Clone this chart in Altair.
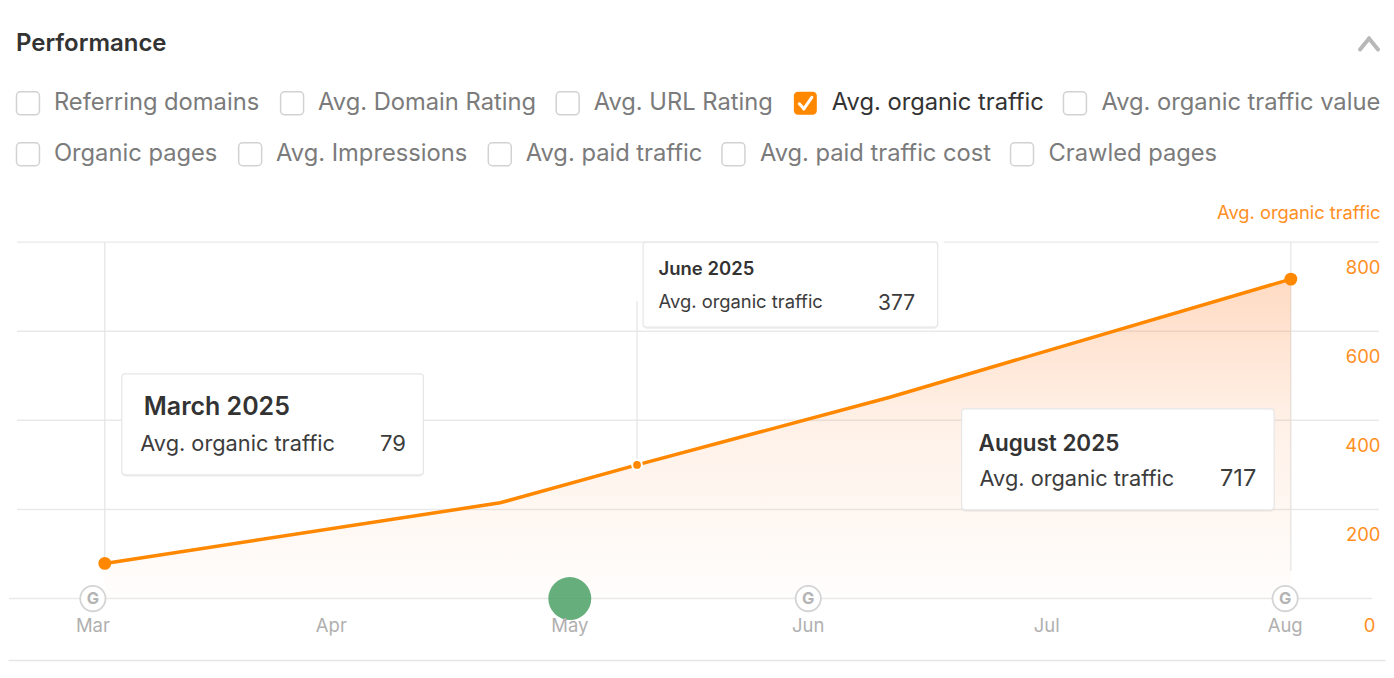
import altair as alt
import pandas as pd

# ---- values ----
series_month = [0.050, 1.708, 2.282, 3.342, 5.024]   # position on the month axis
series_value = [79, 215, 300, 452, 717]
month_labels = ["Mar", "Apr", "May", "Jun", "Jul", "Aug"]
y_ticks = [0, 200, 400, 600, 800]
google_months = [0, 3, 5]
green_month = [2]
end_points = [0.050, 5.024]
end_values = [79, 717]
mid_point = [2.282]
mid_value = [300]
row1 = ["Referring domains", "Avg. Domain Rating", "Avg. URL Rating", "Avg. organic traffic", "Avg. organic traffic value"]
row2 = ["Organic pages", "Avg. Impressions", "Avg. paid traffic", "Avg. paid traffic cost", "Crawled pages"]
series_name = "Avg. organic traffic"

ORANGE = "#ff8800"
LABEL_ORANGE = "#ff8f1f"
GRID = "#e9e9e9"
FONT = "Inter"
W, H = 1378, 660
OX, OY = 8, 7

X = alt.X("m:Q", axis=None, scale=alt.Scale(domain=[-0.3518, 5.4188], nice=False, zero=False))
Y = alt.Y("v:Q", axis=None, scale=alt.Scale(domain=[-154.66, 1324.34], nice=False, zero=False))
Y2 = alt.Y2("v0:Q")
one = alt.Data(values=[{"a": 1}])
layers = []


def px(v):
    return alt.value(v - OX)


def py(v):
    return alt.value(v - OY)


def text(x, y, s, size=23.75, color="#7b7b7b", weight=400, align="left"):
    layers.append(alt.Chart(one).mark_text(text=s, font=FONT, fontSize=size, color=color, fontWeight=weight,
                                           align=align, baseline="middle").encode(x=px(x), y=py(y)))


def box(x0, y0, x1, y1, fill="white", stroke=None, sw=1.0, r=3, opacity=1.0):
    kw = {"stroke": stroke, "strokeWidth": sw} if stroke else {}
    layers.append(alt.Chart(one).mark_rect(fill=fill, cornerRadius=r, opacity=opacity, **kw).encode(
        x=px(x0), x2=px(x1), y=py(y0), y2=py(y1)))


def seg(x0, y0, x1, y1, color, sw):
    layers.append(alt.Chart(one).mark_rule(color=color, strokeWidth=sw, strokeCap="round").encode(
        x=px(x0), x2=px(x1), y=py(y0), y2=py(y1)))


# ---- header ----
text(15, 43, "Performance", size=24, color="#333333", weight=600)
seg(1361, 48, 1370, 37, "#b8b8b8", 4)
seg(1370, 37, 1379, 48, "#b8b8b8", 4)

# ---- checkboxes ----
row1_box = [15.5, 280, 556, 794, 1064]
row1_txt = [53, 317.5, 593.5, 832, 1102]
row2_box = [15.5, 238, 488, 722, 1011]
row2_txt = [53, 275.5, 525.5, 760, 1049]
for i, s in enumerate(row1):
    active = s == series_name
    if active:
        box(row1_box[i], 90.5, row1_box[i] + 23, 113.5, fill=ORANGE, r=4)
        seg(row1_box[i] + 5.5, 102.5, row1_box[i] + 10, 107.5, "white", 3)
        seg(row1_box[i] + 10, 107.5, row1_box[i] + 18, 96, "white", 3)
    else:
        box(row1_box[i], 90.5, row1_box[i] + 23, 113.5, stroke="#d2d2d2", sw=1.5, r=4)
    text(row1_txt[i], 102, s, color="#333333" if active else "#7b7b7b")
for i, s in enumerate(row2):
    box(row2_box[i], 141.5, row2_box[i] + 23, 164.5, stroke="#d2d2d2", sw=1.5, r=4)
    text(row2_txt[i], 153, s)

text(1381.5, 213, series_name, size=18.3, color=LABEL_ORANGE, align="right")

# ---- grid and axis ----
grid_df = pd.DataFrame({"v": y_ticks, "t": [str(t) for t in y_ticks]})
layers.append(alt.Chart(grid_df[grid_df.v > 0]).mark_rule(color=GRID, strokeWidth=1.5).encode(
    y=Y, x=px(16), x2=px(1380)))
layers.append(alt.Chart(grid_df[grid_df.v == 0]).mark_rule(color=GRID, strokeWidth=1.5).encode(
    y=Y, x=px(8), x2=px(1373)))

# ---- vertical guide lines ----
guide = pd.DataFrame({"m": [series_month[0], mid_point[0], series_month[-1]],
                      "v": [series_value[0], mid_value[0], 62],
                      "v0": [800, 668, 800]})
layers.append(alt.Chart(guide).mark_rule(color="#e4e4e4", strokeWidth=1.2).encode(x=X, y=Y, y2=Y2))

# ---- series ----
df = pd.DataFrame({"m": series_month, "v": series_value, "v0": [0] * len(series_value)})
grad = alt.Gradient(gradient="linear", x1=1, x2=1, y1=1, y2=0, stops=[
    alt.GradientStop(color="rgba(255,125,40,0.01)", offset=0),
    alt.GradientStop(color="rgba(255,125,40,0.11)", offset=0.55),
    alt.GradientStop(color="rgba(255,125,40,0.28)", offset=1),
])
layers.append(alt.Chart(df).mark_area(color=grad, interpolate="linear").encode(x=X, y=Y, y2=Y2))
layers.append(alt.Chart(df).mark_line(color=ORANGE, strokeWidth=3.5, interpolate="linear").encode(x=X, y=Y))
layers.append(alt.Chart(pd.DataFrame({"m": end_points, "v": end_values})).mark_circle(
    color=ORANGE, opacity=1, size=165).encode(x=X, y=Y))
layers.append(alt.Chart(pd.DataFrame({"m": mid_point, "v": mid_value})).mark_point(
    filled=True, fill=ORANGE, stroke="white", strokeWidth=2, opacity=1, size=95).encode(x=X, y=Y))

# ---- markers on the axis ----
gdf = pd.DataFrame({"m": google_months, "v": [0] * len(google_months)})
layers.append(alt.Chart(gdf).mark_point(filled=True, fill="white", stroke="#d4d4d4", strokeWidth=1.8,
                                        opacity=1, size=640).encode(x=X, y=Y))
layers.append(alt.Chart(gdf).mark_text(text="G", font=FONT, fontSize=16.5, fontWeight=700, color="#b4b4b4",
                                       baseline="middle").encode(x=X, y=Y))
layers.append(alt.Chart(pd.DataFrame({"m": green_month, "v": [0]})).mark_circle(
    color="#4fa268", opacity=0.87, size=1850).encode(x=X, y=Y))

# ---- tick labels ----
mdf = pd.DataFrame({"m": list(range(len(month_labels))), "t": month_labels})
layers.append(alt.Chart(mdf).mark_text(font=FONT, fontSize=18.5, color="#b0b0b0", baseline="middle").encode(
    x=X, y=py(625), text="t:N"))
nz = grid_df[grid_df.v > 0]
layers.append(alt.Chart(nz).mark_text(font=FONT, fontSize=18.5, color=LABEL_ORANGE, align="right",
                                      baseline="middle", dy=25.7).encode(x=px(1381.5), y=Y, text="t:N"))
text(1376.5, 625, "0", size=18.5, color=LABEL_ORANGE, align="right")

# ---- tooltips ----
box(121, 375, 423, 476, fill="#000000", r=4, opacity=0.06)
box(121, 373, 423, 474, stroke="#e6e6e6", sw=1.2)
text(143, 406, "March 2025", size=25, color="#333333", weight=600)
text(139.5, 443, series_name, size=21.8, color="#3c3c3c")
text(405.5, 443, "79", size=22, color="#3c3c3c", align="right")

box(938, 238, 944, 245)
box(643, 243, 938, 328, fill="#000000", r=4, opacity=0.06)
box(643, 241, 938, 326, stroke="#e6e6e6", sw=1.2)
text(658.5, 268, "June 2025", size=18.5, color="#333333", weight=600)
text(658.5, 301, series_name, size=18.4, color="#3c3c3c")
text(915.5, 303, "377", size=21, color="#3c3c3c", align="right")

box(962, 410, 1275, 511, fill="#000000", r=4, opacity=0.06)
box(962, 408, 1275, 509, stroke="#e6e6e6", sw=1.2)
text(979, 443, "August 2025", size=22.5, color="#333333", weight=600)
text(980, 478, series_name, size=21.8, color="#3c3c3c")
text(1257, 478, "717", size=23.5, color="#3c3c3c", align="right")

# ---- bottom separator ----
seg(8, 660, 1386, 660, "#e6e6e6", 1.5)

chart = alt.layer(*layers).properties(width=W, height=H, padding=0, background="white").configure_view(stroke=None)
chart.save("out.html", embed_options={"renderer": "svg", "actions": False})
